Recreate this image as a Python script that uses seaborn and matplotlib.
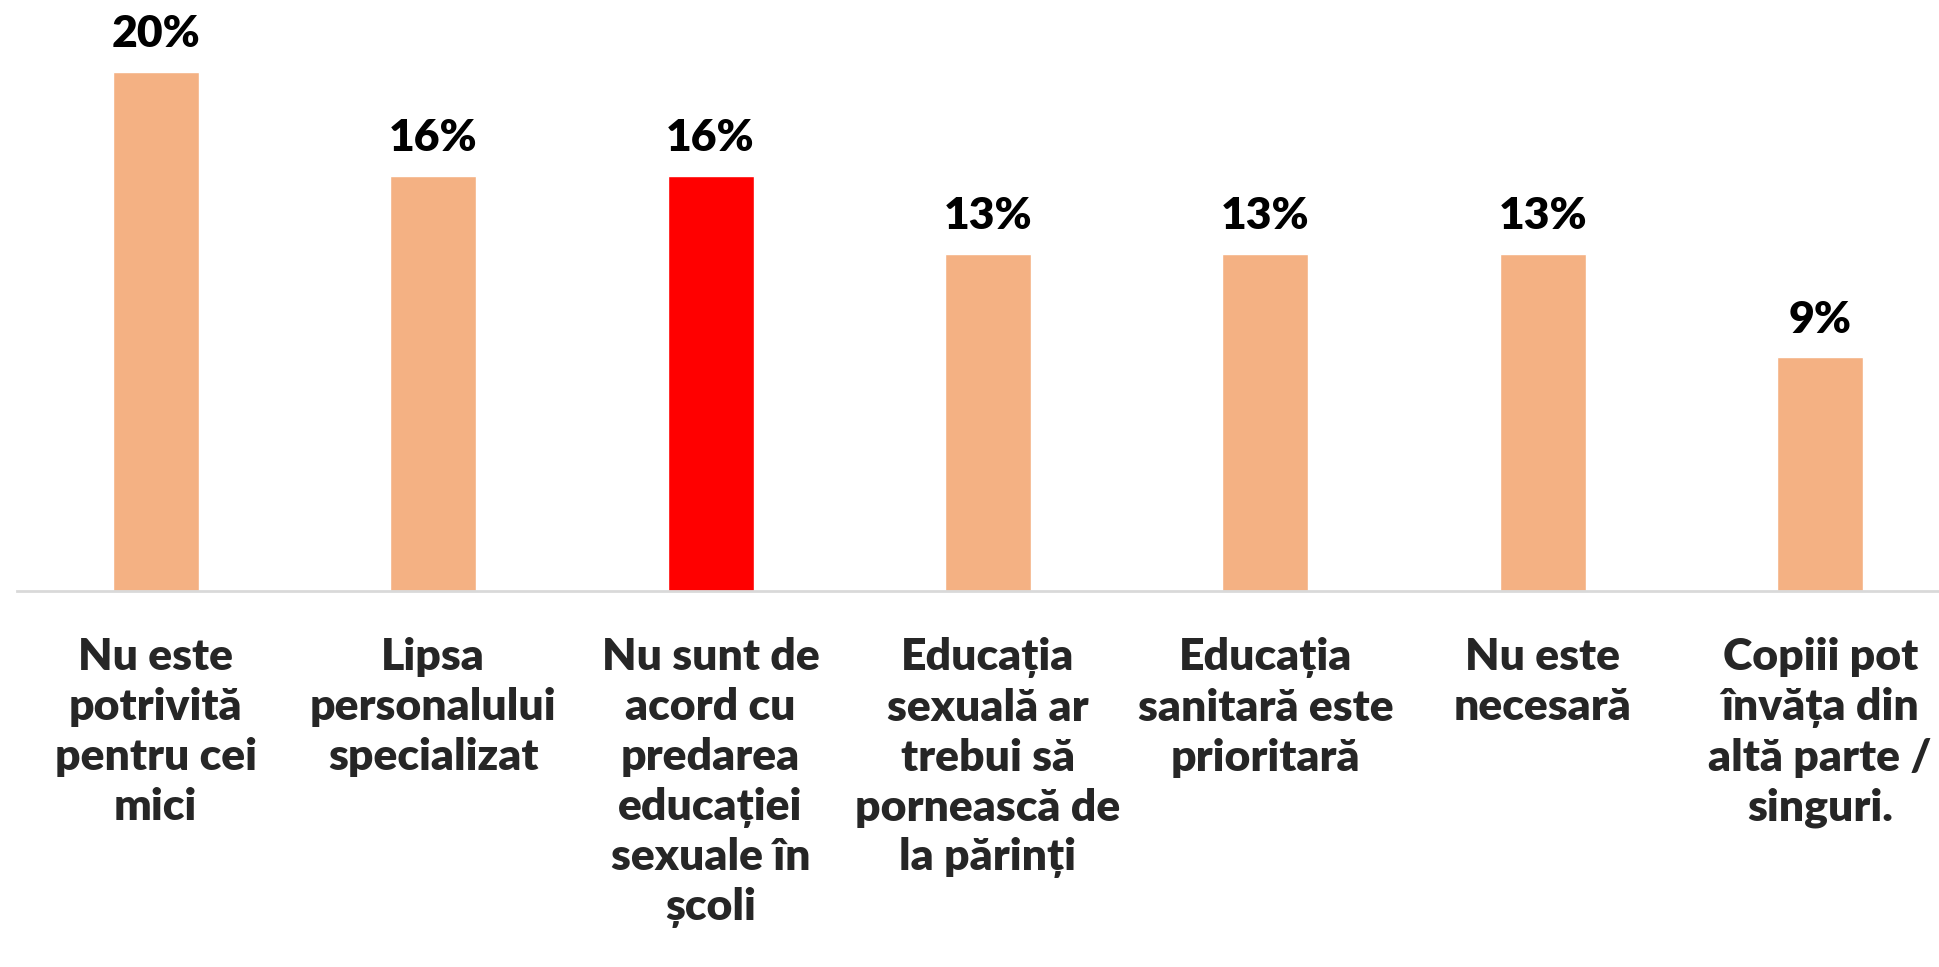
import matplotlib
matplotlib.use("Agg")
import matplotlib.pyplot as plt
import seaborn as sns
import pandas as pd

# Date din grafic (procente)
categorii = [
    "Nu este\npotrivită\npentru cei\nmici",
    "Lipsa\npersonalului\nspecializat",
    "Nu sunt de\nacord cu\npredarea\neducației\nsexuale în\nșcoli",
    "Educația\nsexuală ar\ntrebui să\npornească de\nla părinți",
    "Educația\nsanitară este\nprioritară",
    "Nu este\nnecesară",
    "Copiii pot\nînvăța din\naltă parte /\nsinguri.",
]
procente = [20, 16, 16, 13, 13, 13, 9]
culori = ["#F4B183", "#F4B183", "#FF0000", "#F4B183", "#F4B183", "#F4B183", "#F4B183"]

df = pd.DataFrame({"categorie": categorii, "procent": procente})

sns.set_style("white")
plt.rcParams["font.family"] = ["Lato", "DejaVu Sans"]

W, H = 1940, 967
fig = plt.figure(figsize=(W / 100, H / 100), dpi=100)
# axa: linia de baza la y=591 px, prima categorie centrata la x~155 px
left_px, right_px, base_px = 17, 1959, 591
ax = fig.add_axes([left_px / W, (H - base_px) / H, (right_px - left_px) / W, base_px / H])

sns.barplot(data=df, x="categorie", y="procent", hue="categorie",
            palette=culori, width=0.31, legend=False, ax=ax, saturation=1)

ax.set_xlim(-0.5, len(categorii) - 0.5)
ax.set_ylim(0, 22.77)

for i, v in enumerate(procente):
    ax.text(i, v + 0.68, f"{v}%", ha="center", va="bottom",
            fontsize=32, fontweight="heavy", color="black")

ax.set_xlabel("")
ax.set_ylabel("")
ax.set_yticks([])
ax.tick_params(axis="x", length=0, pad=33)
for lbl in ax.get_xticklabels():
    lbl.set_fontsize(32)
    lbl.set_fontweight("heavy")
    lbl.set_linespacing(1.3)
    lbl.set_verticalalignment("top")

for s in ["top", "left", "right"]:
    ax.spines[s].set_visible(False)
ax.spines["bottom"].set_color("#D9D9D9")
ax.spines["bottom"].set_linewidth(2)

fig.savefig("out.png", dpi=100)
